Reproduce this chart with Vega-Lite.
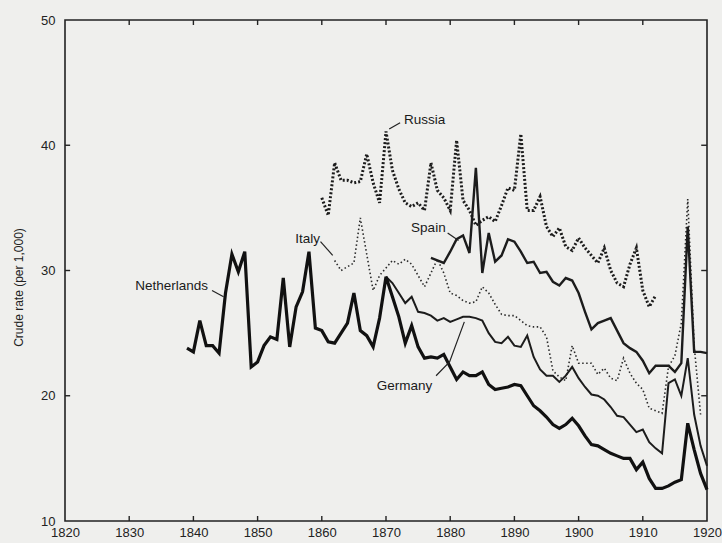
{
  "$schema": "https://vega.github.io/schema/vega-lite/v6.json",
  "width": 642,
  "height": 501,
  "autosize": {"type": "none"},
  "padding": {"left": 65, "top": 20, "right": 15, "bottom": 22},
  "background": "#efefed",
  "config": {
    "view": {"stroke": "#222222", "strokeWidth": 1.6},
    "font": "Liberation Sans",
    "axis": {"grid": false, "domain": false, "ticks": false, "labelFont": "Liberation Sans", "titleFont": "Liberation Sans", "labelColor": "#222222", "titleColor": "#222222", "labelFontSize": 13, "titleFontSize": 12, "titleFontWeight": "normal", "labelFlush": false}
  },
  "datasets": {
    "xticks": [{"year": 1830}, {"year": 1840}, {"year": 1850}, {"year": 1860}, {"year": 1870}, {"year": 1880}, {"year": 1890}, {"year": 1900}, {"year": 1910}],
    "yticks": [{"rate": 20}, {"rate": 30}, {"rate": 40}],
    "labels": [
      {"label": "Russia", "year": 1876.0, "rate": 42.0},
      {"label": "Spain", "year": 1876.6, "rate": 33.4},
      {"label": "Italy", "year": 1857.8, "rate": 32.5},
      {"label": "Netherlands", "year": 1836.6, "rate": 28.8},
      {"label": "Germany", "year": 1872.9, "rate": 20.8}
    ],
    "leaders": [
      {"id": "Russia", "o": 1, "year": 1870.5, "rate": 41.3},
      {"id": "Russia", "o": 2, "year": 1872.2, "rate": 41.8},
      {"id": "Spain", "o": 1, "year": 1879.6, "rate": 33.0},
      {"id": "Spain", "o": 2, "year": 1881.3, "rate": 32.4},
      {"id": "Italy", "o": 1, "year": 1859.8, "rate": 32.3},
      {"id": "Italy", "o": 2, "year": 1861.7, "rate": 31.2},
      {"id": "Netherlands", "o": 1, "year": 1842.9, "rate": 28.4},
      {"id": "Netherlands", "o": 2, "year": 1844.7, "rate": 27.9},
      {"id": "Germany", "o": 1, "year": 1877.8, "rate": 21.6},
      {"id": "Germany", "o": 2, "year": 1879.9, "rate": 22.7},
      {"id": "Germany", "o": 3, "year": 1882.2, "rate": 25.9}
    ],
    "series": [
      {"country": "Netherlands", "year": 1839, "rate": 23.8},
      {"country": "Netherlands", "year": 1840, "rate": 23.5},
      {"country": "Netherlands", "year": 1841, "rate": 26.0},
      {"country": "Netherlands", "year": 1842, "rate": 24.0},
      {"country": "Netherlands", "year": 1843, "rate": 24.0},
      {"country": "Netherlands", "year": 1844, "rate": 23.4},
      {"country": "Netherlands", "year": 1845, "rate": 28.2},
      {"country": "Netherlands", "year": 1846, "rate": 31.3},
      {"country": "Netherlands", "year": 1847, "rate": 29.9},
      {"country": "Netherlands", "year": 1848, "rate": 31.5},
      {"country": "Netherlands", "year": 1849, "rate": 22.3},
      {"country": "Netherlands", "year": 1850, "rate": 22.7},
      {"country": "Netherlands", "year": 1851, "rate": 24.0},
      {"country": "Netherlands", "year": 1852, "rate": 24.7},
      {"country": "Netherlands", "year": 1853, "rate": 24.5},
      {"country": "Netherlands", "year": 1854, "rate": 29.4},
      {"country": "Netherlands", "year": 1855, "rate": 23.9},
      {"country": "Netherlands", "year": 1856, "rate": 27.1},
      {"country": "Netherlands", "year": 1857, "rate": 28.3},
      {"country": "Netherlands", "year": 1858, "rate": 31.5},
      {"country": "Netherlands", "year": 1859, "rate": 25.4},
      {"country": "Netherlands", "year": 1860, "rate": 25.2},
      {"country": "Netherlands", "year": 1861, "rate": 24.3},
      {"country": "Netherlands", "year": 1862, "rate": 24.2},
      {"country": "Netherlands", "year": 1863, "rate": 25.0},
      {"country": "Netherlands", "year": 1864, "rate": 25.8},
      {"country": "Netherlands", "year": 1865, "rate": 28.2},
      {"country": "Netherlands", "year": 1866, "rate": 25.2},
      {"country": "Netherlands", "year": 1867, "rate": 24.8},
      {"country": "Netherlands", "year": 1868, "rate": 23.9},
      {"country": "Netherlands", "year": 1869, "rate": 26.2},
      {"country": "Netherlands", "year": 1870, "rate": 29.5},
      {"country": "Netherlands", "year": 1871, "rate": 27.9},
      {"country": "Netherlands", "year": 1872, "rate": 26.3},
      {"country": "Netherlands", "year": 1873, "rate": 24.2},
      {"country": "Netherlands", "year": 1874, "rate": 25.6},
      {"country": "Netherlands", "year": 1875, "rate": 23.9},
      {"country": "Netherlands", "year": 1876, "rate": 23.0},
      {"country": "Netherlands", "year": 1877, "rate": 23.1},
      {"country": "Netherlands", "year": 1878, "rate": 23.0},
      {"country": "Netherlands", "year": 1879, "rate": 23.3},
      {"country": "Netherlands", "year": 1880, "rate": 22.3},
      {"country": "Netherlands", "year": 1881, "rate": 21.3},
      {"country": "Netherlands", "year": 1882, "rate": 21.9},
      {"country": "Netherlands", "year": 1883, "rate": 21.6},
      {"country": "Netherlands", "year": 1884, "rate": 21.6},
      {"country": "Netherlands", "year": 1885, "rate": 21.9},
      {"country": "Netherlands", "year": 1886, "rate": 20.9},
      {"country": "Netherlands", "year": 1887, "rate": 20.5},
      {"country": "Netherlands", "year": 1888, "rate": 20.6},
      {"country": "Netherlands", "year": 1889, "rate": 20.7},
      {"country": "Netherlands", "year": 1890, "rate": 20.9},
      {"country": "Netherlands", "year": 1891, "rate": 20.8},
      {"country": "Netherlands", "year": 1892, "rate": 20.0},
      {"country": "Netherlands", "year": 1893, "rate": 19.2},
      {"country": "Netherlands", "year": 1894, "rate": 18.8},
      {"country": "Netherlands", "year": 1895, "rate": 18.3},
      {"country": "Netherlands", "year": 1896, "rate": 17.7},
      {"country": "Netherlands", "year": 1897, "rate": 17.4},
      {"country": "Netherlands", "year": 1898, "rate": 17.7},
      {"country": "Netherlands", "year": 1899, "rate": 18.2},
      {"country": "Netherlands", "year": 1900, "rate": 17.6},
      {"country": "Netherlands", "year": 1901, "rate": 16.8},
      {"country": "Netherlands", "year": 1902, "rate": 16.1},
      {"country": "Netherlands", "year": 1903, "rate": 16.0},
      {"country": "Netherlands", "year": 1904, "rate": 15.7},
      {"country": "Netherlands", "year": 1905, "rate": 15.4},
      {"country": "Netherlands", "year": 1906, "rate": 15.2},
      {"country": "Netherlands", "year": 1907, "rate": 15.0},
      {"country": "Netherlands", "year": 1908, "rate": 15.0},
      {"country": "Netherlands", "year": 1909, "rate": 14.1},
      {"country": "Netherlands", "year": 1910, "rate": 14.7},
      {"country": "Netherlands", "year": 1911, "rate": 13.4},
      {"country": "Netherlands", "year": 1912, "rate": 12.6},
      {"country": "Netherlands", "year": 1913, "rate": 12.6},
      {"country": "Netherlands", "year": 1914, "rate": 12.8},
      {"country": "Netherlands", "year": 1915, "rate": 13.1},
      {"country": "Netherlands", "year": 1916, "rate": 13.3},
      {"country": "Netherlands", "year": 1917, "rate": 17.8},
      {"country": "Netherlands", "year": 1918, "rate": 15.7},
      {"country": "Netherlands", "year": 1919, "rate": 13.8},
      {"country": "Netherlands", "year": 1920, "rate": 12.5},
      {"country": "Germany", "year": 1870, "rate": 29.5},
      {"country": "Germany", "year": 1871, "rate": 29.0},
      {"country": "Germany", "year": 1872, "rate": 28.2},
      {"country": "Germany", "year": 1873, "rate": 27.4},
      {"country": "Germany", "year": 1874, "rate": 27.9},
      {"country": "Germany", "year": 1875, "rate": 26.7},
      {"country": "Germany", "year": 1876, "rate": 26.6},
      {"country": "Germany", "year": 1877, "rate": 26.4},
      {"country": "Germany", "year": 1878, "rate": 26.0},
      {"country": "Germany", "year": 1879, "rate": 26.2},
      {"country": "Germany", "year": 1880, "rate": 25.9},
      {"country": "Germany", "year": 1881, "rate": 26.1},
      {"country": "Germany", "year": 1882, "rate": 26.3},
      {"country": "Germany", "year": 1883, "rate": 26.3},
      {"country": "Germany", "year": 1884, "rate": 26.2},
      {"country": "Germany", "year": 1885, "rate": 26.0},
      {"country": "Germany", "year": 1886, "rate": 25.0},
      {"country": "Germany", "year": 1887, "rate": 24.3},
      {"country": "Germany", "year": 1888, "rate": 24.2},
      {"country": "Germany", "year": 1889, "rate": 24.7},
      {"country": "Germany", "year": 1890, "rate": 24.0},
      {"country": "Germany", "year": 1891, "rate": 23.9},
      {"country": "Germany", "year": 1892, "rate": 24.8},
      {"country": "Germany", "year": 1893, "rate": 23.1},
      {"country": "Germany", "year": 1894, "rate": 22.1},
      {"country": "Germany", "year": 1895, "rate": 21.6},
      {"country": "Germany", "year": 1896, "rate": 21.6},
      {"country": "Germany", "year": 1897, "rate": 21.1},
      {"country": "Germany", "year": 1898, "rate": 21.6},
      {"country": "Germany", "year": 1899, "rate": 22.3},
      {"country": "Germany", "year": 1900, "rate": 21.4},
      {"country": "Germany", "year": 1901, "rate": 20.7},
      {"country": "Germany", "year": 1902, "rate": 20.1},
      {"country": "Germany", "year": 1903, "rate": 20.0},
      {"country": "Germany", "year": 1904, "rate": 19.7},
      {"country": "Germany", "year": 1905, "rate": 19.1},
      {"country": "Germany", "year": 1906, "rate": 18.4},
      {"country": "Germany", "year": 1907, "rate": 18.3},
      {"country": "Germany", "year": 1908, "rate": 17.7},
      {"country": "Germany", "year": 1909, "rate": 17.1},
      {"country": "Germany", "year": 1910, "rate": 17.3},
      {"country": "Germany", "year": 1911, "rate": 16.3},
      {"country": "Germany", "year": 1912, "rate": 15.8},
      {"country": "Germany", "year": 1913, "rate": 15.4},
      {"country": "Germany", "year": 1914, "rate": 21.0},
      {"country": "Germany", "year": 1915, "rate": 21.3},
      {"country": "Germany", "year": 1916, "rate": 20.0},
      {"country": "Germany", "year": 1917, "rate": 23.0},
      {"country": "Germany", "year": 1918, "rate": 18.5},
      {"country": "Germany", "year": 1919, "rate": 16.0},
      {"country": "Germany", "year": 1920, "rate": 14.4},
      {"country": "Italy", "year": 1862, "rate": 30.8},
      {"country": "Italy", "year": 1863, "rate": 30.0},
      {"country": "Italy", "year": 1864, "rate": 30.3},
      {"country": "Italy", "year": 1865, "rate": 30.6},
      {"country": "Italy", "year": 1866, "rate": 34.2},
      {"country": "Italy", "year": 1867, "rate": 31.3},
      {"country": "Italy", "year": 1868, "rate": 28.4},
      {"country": "Italy", "year": 1869, "rate": 29.6},
      {"country": "Italy", "year": 1870, "rate": 30.2},
      {"country": "Italy", "year": 1871, "rate": 30.8},
      {"country": "Italy", "year": 1872, "rate": 30.5},
      {"country": "Italy", "year": 1873, "rate": 30.9},
      {"country": "Italy", "year": 1874, "rate": 30.5},
      {"country": "Italy", "year": 1875, "rate": 29.6},
      {"country": "Italy", "year": 1876, "rate": 28.7},
      {"country": "Italy", "year": 1877, "rate": 29.8},
      {"country": "Italy", "year": 1878, "rate": 30.9},
      {"country": "Italy", "year": 1879, "rate": 29.8},
      {"country": "Italy", "year": 1880, "rate": 28.2},
      {"country": "Italy", "year": 1881, "rate": 28.0},
      {"country": "Italy", "year": 1882, "rate": 27.6},
      {"country": "Italy", "year": 1883, "rate": 27.4},
      {"country": "Italy", "year": 1884, "rate": 27.5},
      {"country": "Italy", "year": 1885, "rate": 28.7},
      {"country": "Italy", "year": 1886, "rate": 28.2},
      {"country": "Italy", "year": 1887, "rate": 27.3},
      {"country": "Italy", "year": 1888, "rate": 26.5},
      {"country": "Italy", "year": 1889, "rate": 26.4},
      {"country": "Italy", "year": 1890, "rate": 26.4},
      {"country": "Italy", "year": 1891, "rate": 26.0},
      {"country": "Italy", "year": 1892, "rate": 25.6},
      {"country": "Italy", "year": 1893, "rate": 25.5},
      {"country": "Italy", "year": 1894, "rate": 25.5},
      {"country": "Italy", "year": 1895, "rate": 24.7},
      {"country": "Italy", "year": 1896, "rate": 22.0},
      {"country": "Italy", "year": 1897, "rate": 21.5},
      {"country": "Italy", "year": 1898, "rate": 21.2},
      {"country": "Italy", "year": 1899, "rate": 24.0},
      {"country": "Italy", "year": 1900, "rate": 22.6},
      {"country": "Italy", "year": 1901, "rate": 22.6},
      {"country": "Italy", "year": 1902, "rate": 22.6},
      {"country": "Italy", "year": 1903, "rate": 21.7},
      {"country": "Italy", "year": 1904, "rate": 22.2},
      {"country": "Italy", "year": 1905, "rate": 21.4},
      {"country": "Italy", "year": 1906, "rate": 21.2},
      {"country": "Italy", "year": 1907, "rate": 23.0},
      {"country": "Italy", "year": 1908, "rate": 21.8},
      {"country": "Italy", "year": 1909, "rate": 21.0},
      {"country": "Italy", "year": 1910, "rate": 20.5},
      {"country": "Italy", "year": 1911, "rate": 19.0},
      {"country": "Italy", "year": 1912, "rate": 18.8},
      {"country": "Italy", "year": 1913, "rate": 18.6},
      {"country": "Italy", "year": 1914, "rate": 22.3},
      {"country": "Italy", "year": 1915, "rate": 23.2},
      {"country": "Italy", "year": 1916, "rate": 25.8},
      {"country": "Italy", "year": 1917, "rate": 35.7},
      {"country": "Italy", "year": 1918, "rate": 24.0},
      {"country": "Italy", "year": 1919, "rate": 18.5},
      {"country": "Spain", "year": 1877, "rate": 31.0},
      {"country": "Spain", "year": 1878, "rate": 30.8},
      {"country": "Spain", "year": 1879, "rate": 30.6},
      {"country": "Spain", "year": 1880, "rate": 31.5},
      {"country": "Spain", "year": 1881, "rate": 32.5},
      {"country": "Spain", "year": 1882, "rate": 32.8},
      {"country": "Spain", "year": 1883, "rate": 31.4},
      {"country": "Spain", "year": 1884, "rate": 38.2},
      {"country": "Spain", "year": 1885, "rate": 29.8},
      {"country": "Spain", "year": 1886, "rate": 33.0},
      {"country": "Spain", "year": 1887, "rate": 30.7},
      {"country": "Spain", "year": 1888, "rate": 31.2},
      {"country": "Spain", "year": 1889, "rate": 32.5},
      {"country": "Spain", "year": 1890, "rate": 32.3},
      {"country": "Spain", "year": 1891, "rate": 31.5},
      {"country": "Spain", "year": 1892, "rate": 30.6},
      {"country": "Spain", "year": 1893, "rate": 30.7},
      {"country": "Spain", "year": 1894, "rate": 29.8},
      {"country": "Spain", "year": 1895, "rate": 29.9},
      {"country": "Spain", "year": 1896, "rate": 29.1},
      {"country": "Spain", "year": 1897, "rate": 28.8},
      {"country": "Spain", "year": 1898, "rate": 29.4},
      {"country": "Spain", "year": 1899, "rate": 29.2},
      {"country": "Spain", "year": 1900, "rate": 28.2},
      {"country": "Spain", "year": 1901, "rate": 26.7},
      {"country": "Spain", "year": 1902, "rate": 25.3},
      {"country": "Spain", "year": 1903, "rate": 25.8},
      {"country": "Spain", "year": 1904, "rate": 26.0},
      {"country": "Spain", "year": 1905, "rate": 26.2},
      {"country": "Spain", "year": 1906, "rate": 25.2},
      {"country": "Spain", "year": 1907, "rate": 24.2},
      {"country": "Spain", "year": 1908, "rate": 23.8},
      {"country": "Spain", "year": 1909, "rate": 23.5},
      {"country": "Spain", "year": 1910, "rate": 22.8},
      {"country": "Spain", "year": 1911, "rate": 21.8},
      {"country": "Spain", "year": 1912, "rate": 22.4},
      {"country": "Spain", "year": 1913, "rate": 22.4},
      {"country": "Spain", "year": 1914, "rate": 22.4},
      {"country": "Spain", "year": 1915, "rate": 21.9},
      {"country": "Spain", "year": 1916, "rate": 22.6},
      {"country": "Spain", "year": 1917, "rate": 33.5},
      {"country": "Spain", "year": 1918, "rate": 23.5},
      {"country": "Spain", "year": 1919, "rate": 23.5},
      {"country": "Spain", "year": 1920, "rate": 23.4},
      {"country": "Russia", "year": 1860, "rate": 35.8},
      {"country": "Russia", "year": 1861, "rate": 34.4},
      {"country": "Russia", "year": 1862, "rate": 38.6},
      {"country": "Russia", "year": 1863, "rate": 37.2},
      {"country": "Russia", "year": 1864, "rate": 37.2},
      {"country": "Russia", "year": 1865, "rate": 37.0},
      {"country": "Russia", "year": 1866, "rate": 37.1},
      {"country": "Russia", "year": 1867, "rate": 39.3},
      {"country": "Russia", "year": 1868, "rate": 37.0},
      {"country": "Russia", "year": 1869, "rate": 35.4},
      {"country": "Russia", "year": 1870, "rate": 41.1},
      {"country": "Russia", "year": 1871, "rate": 38.0},
      {"country": "Russia", "year": 1872, "rate": 36.5},
      {"country": "Russia", "year": 1873, "rate": 35.4},
      {"country": "Russia", "year": 1874, "rate": 35.1},
      {"country": "Russia", "year": 1875, "rate": 35.4},
      {"country": "Russia", "year": 1876, "rate": 34.8},
      {"country": "Russia", "year": 1877, "rate": 38.6},
      {"country": "Russia", "year": 1878, "rate": 36.4},
      {"country": "Russia", "year": 1879, "rate": 35.8},
      {"country": "Russia", "year": 1880, "rate": 34.8},
      {"country": "Russia", "year": 1881, "rate": 40.4},
      {"country": "Russia", "year": 1882, "rate": 35.6},
      {"country": "Russia", "year": 1883, "rate": 34.8},
      {"country": "Russia", "year": 1884, "rate": 33.6},
      {"country": "Russia", "year": 1885, "rate": 34.0},
      {"country": "Russia", "year": 1886, "rate": 34.3},
      {"country": "Russia", "year": 1887, "rate": 33.9},
      {"country": "Russia", "year": 1888, "rate": 35.2},
      {"country": "Russia", "year": 1889, "rate": 36.6},
      {"country": "Russia", "year": 1890, "rate": 36.4},
      {"country": "Russia", "year": 1891, "rate": 40.9},
      {"country": "Russia", "year": 1892, "rate": 34.8},
      {"country": "Russia", "year": 1893, "rate": 34.8},
      {"country": "Russia", "year": 1894, "rate": 35.9},
      {"country": "Russia", "year": 1895, "rate": 33.5},
      {"country": "Russia", "year": 1896, "rate": 32.7},
      {"country": "Russia", "year": 1897, "rate": 33.4},
      {"country": "Russia", "year": 1898, "rate": 31.9},
      {"country": "Russia", "year": 1899, "rate": 31.6},
      {"country": "Russia", "year": 1900, "rate": 32.6},
      {"country": "Russia", "year": 1901, "rate": 31.8},
      {"country": "Russia", "year": 1902, "rate": 31.2},
      {"country": "Russia", "year": 1903, "rate": 30.6},
      {"country": "Russia", "year": 1904, "rate": 31.8},
      {"country": "Russia", "year": 1905, "rate": 30.0},
      {"country": "Russia", "year": 1906, "rate": 29.0},
      {"country": "Russia", "year": 1907, "rate": 28.7},
      {"country": "Russia", "year": 1908, "rate": 30.5},
      {"country": "Russia", "year": 1909, "rate": 31.8},
      {"country": "Russia", "year": 1910, "rate": 28.4},
      {"country": "Russia", "year": 1911, "rate": 27.1},
      {"country": "Russia", "year": 1912, "rate": 28.0}
    ]
  },
  "layer": [
    {
      "data": {"name": "series"},
      "transform": [{"filter": "datum.country === 'Russia'"}],
      "mark": {"type": "line", "color": "#1c1c1c", "strokeWidth": 3, "strokeDash": [2, 2]},
      "encoding": {
        "x": {"field": "year", "type": "quantitative", "scale": {"domain": [1820, 1920], "nice": false, "zero": false},
              "axis": {"orient": "bottom", "values": [1820, 1830, 1840, 1850, 1860, 1870, 1880, 1890, 1900, 1910, 1920], "format": "d", "title": null, "labelPadding": 5}},
        "y": {"field": "rate", "type": "quantitative", "scale": {"domain": [10, 50], "nice": false, "zero": false},
              "axis": {"orient": "left", "values": [10, 20, 30, 40, 50], "title": "Crude rate (per 1,000)", "labelPadding": 10, "titleX": -40, "titleY": 267}}
      }
    },
    {
      "data": {"name": "series"},
      "transform": [{"filter": "datum.country === 'Italy'"}],
      "mark": {"type": "line", "color": "#2a2a2a", "strokeWidth": 1.6, "strokeDash": [1.5, 2.5]},
      "encoding": {
        "x": {"field": "year", "type": "quantitative", "axis": null},
        "y": {"field": "rate", "type": "quantitative", "axis": null}
      }
    },
    {
      "data": {"name": "series"},
      "transform": [{"filter": "datum.country === 'Spain'"}],
      "mark": {"type": "line", "color": "#1c1c1c", "strokeWidth": 2.4},
      "encoding": {
        "x": {"field": "year", "type": "quantitative", "axis": null},
        "y": {"field": "rate", "type": "quantitative", "axis": null}
      }
    },
    {
      "data": {"name": "series"},
      "transform": [{"filter": "datum.country === 'Germany'"}],
      "mark": {"type": "line", "color": "#1c1c1c", "strokeWidth": 2},
      "encoding": {
        "x": {"field": "year", "type": "quantitative", "axis": null},
        "y": {"field": "rate", "type": "quantitative", "axis": null}
      }
    },
    {
      "data": {"name": "series"},
      "transform": [{"filter": "datum.country === 'Netherlands'"}],
      "mark": {"type": "line", "color": "#111111", "strokeWidth": 3.2},
      "encoding": {
        "x": {"field": "year", "type": "quantitative", "axis": null},
        "y": {"field": "rate", "type": "quantitative", "axis": null}
      }
    },
    {
      "data": {"name": "leaders"},
      "mark": {"type": "line", "color": "#222222", "strokeWidth": 1.2},
      "encoding": {
        "x": {"field": "year", "type": "quantitative", "axis": null},
        "y": {"field": "rate", "type": "quantitative", "axis": null},
        "detail": {"field": "id"},
        "order": {"field": "o"}
      }
    },
    {
      "data": {"name": "xticks"},
      "mark": {"type": "rule", "color": "#222222", "strokeWidth": 1.4},
      "encoding": {
        "x": {"field": "year", "type": "quantitative", "axis": null},
        "y": {"datum": 10, "type": "quantitative", "axis": null},
        "y2": {"datum": 10.4}
      }
    },
    {
      "data": {"name": "xticks"},
      "mark": {"type": "rule", "color": "#222222", "strokeWidth": 1.4},
      "encoding": {
        "x": {"field": "year", "type": "quantitative", "axis": null},
        "y": {"datum": 50, "type": "quantitative", "axis": null},
        "y2": {"datum": 49.6}
      }
    },
    {
      "data": {"name": "yticks"},
      "mark": {"type": "rule", "color": "#222222", "strokeWidth": 1.4},
      "encoding": {
        "y": {"field": "rate", "type": "quantitative", "axis": null},
        "x": {"datum": 1820, "type": "quantitative", "axis": null},
        "x2": {"datum": 1820.8}
      }
    },
    {
      "data": {"name": "yticks"},
      "mark": {"type": "rule", "color": "#222222", "strokeWidth": 1.4},
      "encoding": {
        "y": {"field": "rate", "type": "quantitative", "axis": null},
        "x": {"datum": 1920, "type": "quantitative", "axis": null},
        "x2": {"datum": 1919.1}
      }
    },
    {
      "data": {"name": "labels"},
      "mark": {"type": "text", "font": "Liberation Sans", "fontSize": 13.5, "color": "#1a1a1a", "align": "center", "baseline": "middle"},
      "encoding": {
        "x": {"field": "year", "type": "quantitative", "axis": null},
        "y": {"field": "rate", "type": "quantitative", "axis": null},
        "text": {"field": "label"}
      }
    }
  ],
  "resolve": {"axis": {"x": "independent", "y": "independent"}}
}
